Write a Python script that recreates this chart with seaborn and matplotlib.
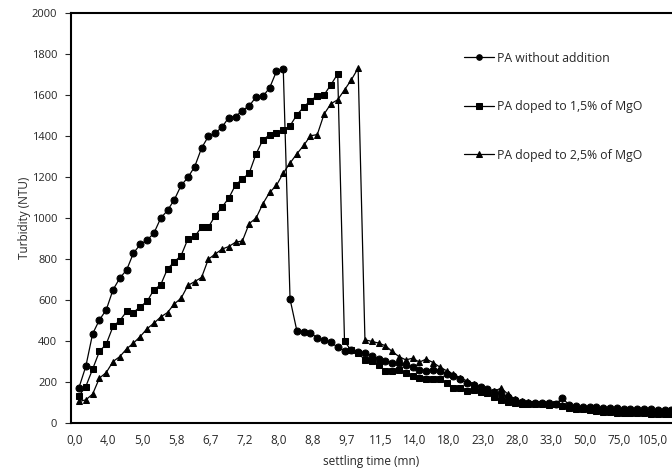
import numpy as np
import pandas as pd
import matplotlib
matplotlib.use("Agg")
import matplotlib.pyplot as plt
import seaborn as sns

# --- DATA (one value per category) ---
tick_labels = ["0,0", "4,0", "5,0", "5,8", "6,7", "7,2", "8,0", "8,8", "9,7",
               "11,5", "14,0", "18,0", "23,0", "28,0", "33,0", "50,0", "75,0", "105,0"]

pa_plain = [172, 275, 434, 502, 551, 649, 706, 746, 828, 870,
            891, 925, 998, 1036, 1088, 1158, 1197, 1250, 1340, 1397,
            1413, 1442, 1489, 1494, 1523, 1546, 1589, 1592, 1634, 1714,
            1727, 603, 449, 443, 440, 413, 405, 392, 369, 352,
            356, 345, 340, 328, 310, 302, 294, 290, 283, 270,
            259, 254, 259, 252, 240, 228, 215, 195, 182, 175,
            165, 150, 140, 125, 110, 100, 98, 95, 97, 95,
            92, 120, 87, 80, 78, 75, 75, 72, 70, 70,
            68, 68, 66, 66, 65, 64, 63, 62]

pa_15 = [132, 177, 262, 348, 384, 470, 499, 543, 538, 567,
         592, 649, 673, 751, 785, 816, 897, 909, 954, 954,
         1010, 1052, 1096, 1161, 1189, 1218, 1311, 1380, 1405, 1415,
         1426, 1449, 1502, 1540, 1572, 1595, 1600, 1649, 1702, 397,
         353, 340, 307, 300, 280, 255, 255, 258, 245, 226,
         218, 215, 215, 215, 193, 169, 169, 153, 160, 150,
         145, 125, 112, 100, 96, 90, 90, 92, 90, 88,
         90, 80, 70, 68, 65, 62, 58, 55, 52, 50,
         50, 48, 48, 46, 45, 45, 44, 44]

pa_25 = [104, 112, 140, 218, 245, 299, 323, 361, 389, 421,
         459, 486, 516, 538, 580, 608, 670, 689, 709, 798,
         823, 847, 860, 881, 887, 972, 998, 1068, 1124, 1158,
         1218, 1267, 1312, 1353, 1400, 1406, 1506, 1556, 1576, 1624,
         1673, 1730, 405, 397, 389, 376, 348, 323, 307, 315,
         296, 311, 294, 272, 254, 237, 218, 205, 190, 175,
         165, 155, 169, 140, 115, 105, 100, 98, 95, 92,
         90, 85, 80, 75, 72, 70, 68, 66, 64, 62,
         60, 58, 57, 56, 55, 54, 53, 52]

series_names = ["PA without addition", "PA doped to 1,5% of MgO", "PA doped to 2,5% of MgO"]

frames = []
for name, vals in zip(series_names, [pa_plain, pa_15, pa_25]):
    frames.append(pd.DataFrame({"idx": np.arange(len(vals)), "turb": vals, "serie": name}))
df = pd.concat(frames, ignore_index=True)

# --- PLOT ---
sns.set_style("white")
plt.rcParams["font.family"] = ["Open Sans", "DejaVu Sans"]

fig = plt.figure(figsize=(6.72, 4.74), dpi=100)
ax = fig.add_axes([0.1057, 0.108, 0.8943, 0.865])

sns.lineplot(data=df, x="idx", y="turb", hue="serie", style="serie",
             palette=["black"] * 3, markers=["o", "s", "^"], dashes=False,
             markersize=5, markeredgecolor="black", linewidth=0.9, ax=ax)

ax.set_xlim(-1.17, 87.1)
ax.set_ylim(0, 2000)
ax.set_yticks(np.arange(0, 2001, 200))
# labels sit a little left of their category in the original
ax.set_xticks(np.arange(0, 5 * len(tick_labels), 5) - 0.7)
ax.set_xticklabels(tick_labels)
ax.tick_params(axis="x", length=0, labelsize=8.5, pad=8)
ax.tick_params(axis="y", left=True, length=4, width=0.8, direction="out",
               labelsize=8, pad=6)

ax.set_xlabel("settling time (mn)", fontsize=8.5, labelpad=6)
ax.set_ylabel("Turbidity (NTU)", fontsize=8.5)
ax.yaxis.set_label_coords(-0.066, 0.5)

for side in ["left", "bottom", "top"]:
    ax.spines[side].set_color("black")
    ax.spines[side].set_linewidth(1.5)
ax.spines["right"].set_visible(False)

handles, labels = ax.get_legend_handles_labels()
for h in handles:
    h.set_markersize(4)
ax.legend(handles, labels, loc="upper left", bbox_to_anchor=(0.636, 0.932),
          frameon=False, fontsize=8.8, handlelength=2.4, handletextpad=0.25,
          labelspacing=2.9)

fig.savefig("out.png", dpi=100)
